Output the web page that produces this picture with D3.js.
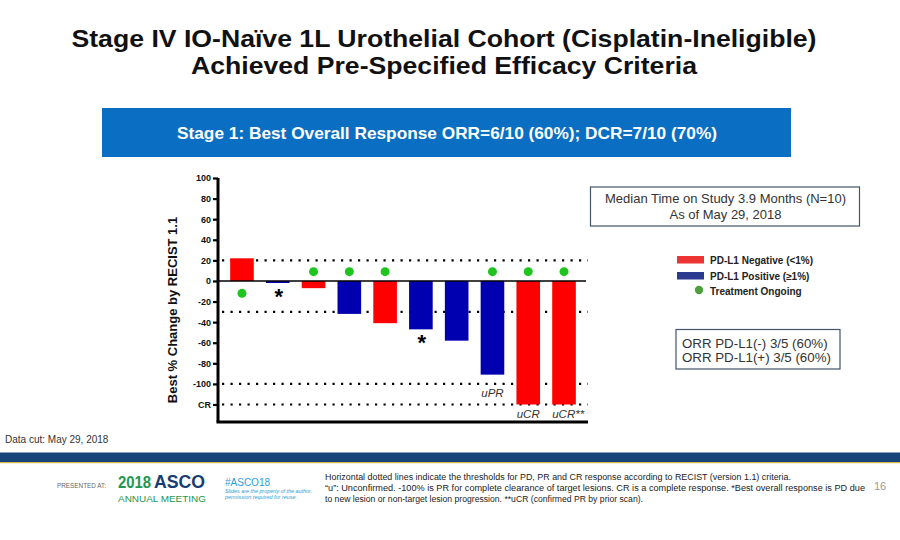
<!DOCTYPE html>
<html>
<head>
<meta charset="utf-8">
<script src="https://cdn.jsdelivr.net/npm/d3@7"></script>
<style>
html,body{margin:0;padding:0;background:#fff;}
svg{display:block;font-family:"Liberation Sans",Arial,sans-serif;}
</style>
</head>
<body>
<svg id="c" width="900" height="540"></svg>
<script>
// ---- data ----
const patients = ["P1","P2","P3","P4","P5","P6","P7","P8","P9","P10"];
const values   = [22, -2, -7, -32, -41, -47, -58, -91, -120, -120];
const pdl1     = ["neg","pos","neg","pos","neg","pos","pos","pos","neg","neg"];
const ongoing  = [true, false, true, true, true, false, false, true, true, true];
const asterisk = [false, true, false, false, false, true, false, false, false, false];
const respLabels = ["", "", "", "", "", "", "", "uPR", "uCR", "uCR**"];
const thresholds = [20, -30, -100, -120];
const yTicks = [100, 80, 60, 40, 20, 0, -20, -40, -60, -80, -100, -120];
const yTickText = {"-120": "CR"};
const legendItems = [
  {label: "PD-L1 Negative (<1%)", type: "neg"},
  {label: "PD-L1 Positive (\u22651%)", type: "pos"},
  {label: "Treatment Ongoing", type: "dot"}
];

const svg = d3.select("#c");

// ---- header ----
svg.append("text").attr("x", 444).attr("y", 47).attr("text-anchor", "middle")
  .attr("font-size", 24.5).attr("font-weight", "bold").attr("fill", "#111")
  .attr("textLength", 745).attr("lengthAdjust", "spacingAndGlyphs")
  .text("Stage IV IO-Naïve 1L Urothelial Cohort (Cisplatin-Ineligible)");
svg.append("text").attr("x", 444).attr("y", 73.5).attr("text-anchor", "middle")
  .attr("font-size", 24.5).attr("font-weight", "bold").attr("fill", "#111")
  .attr("textLength", 506).attr("lengthAdjust", "spacingAndGlyphs")
  .text("Achieved Pre-Specified Efficacy Criteria");

svg.append("rect").attr("x", 102).attr("y", 108).attr("width", 689).attr("height", 49).attr("fill", "#0a6fc2");
svg.append("text").attr("x", 447).attr("y", 139).attr("text-anchor", "middle")
  .attr("font-size", 16.5).attr("font-weight", "bold").attr("fill", "#fff")
  .attr("textLength", 540).attr("lengthAdjust", "spacingAndGlyphs")
  .text("Stage 1: Best Overall Response ORR=6/10 (60%); DCR=7/10 (70%)");

// ---- chart ----
const x = d3.scaleBand().domain(patients).range([218, 588]).paddingInner(0.34).paddingOuter(0.34);
const y = d3.scaleLinear().domain([-137, 100]).range([422, 178]);
const colors = {neg: "#ff0000", pos: "#0000b0"};

// threshold dotted lines
svg.append("g").selectAll("line").data(thresholds).join("line")
  .attr("x1", 222).attr("x2", 588)
  .attr("y1", d => y(d)).attr("y2", d => y(d))
  .attr("stroke", "#000").attr("stroke-width", 2.2).attr("stroke-dasharray", "2.2,6.3");

// bars
const data = patients.map((p, i) => ({p, v: values[i], t: pdl1[i], on: ongoing[i], ast: asterisk[i], lab: respLabels[i]}));
svg.append("g").selectAll("rect").data(data).join("rect")
  .attr("x", d => x(d.p)).attr("width", x.bandwidth())
  .attr("y", d => y(Math.max(0, d.v))).attr("height", d => Math.abs(y(d.v) - y(0)))
  .attr("fill", d => colors[d.t]);

// zero line
svg.append("line").attr("x1", 218).attr("x2", 586).attr("y1", y(0)).attr("y2", y(0))
  .attr("stroke", "#000").attr("stroke-width", 1.5);

// ongoing dots
svg.append("g").selectAll("circle").data(data.filter(d => d.on)).join("circle")
  .attr("cx", d => x(d.p) + x.bandwidth() / 2)
  .attr("cy", d => d.v > 0 ? y(-12) : y(9))
  .attr("r", 4.5).attr("fill", "#1fc41f");

// asterisks
svg.append("g").selectAll("text").data(data.filter(d => d.ast)).join("text")
  .attr("x", d => x(d.p) + x.bandwidth() / 2 + 1)
  .attr("y", d => y(d.v) + 21)
  .attr("text-anchor", "middle").attr("font-size", 22).attr("font-weight", "bold").attr("fill", "#000")
  .text("*");

// response labels
svg.append("g").selectAll("text").data(data.filter(d => d.lab)).join("text")
  .attr("x", d => x(d.p) + (d.lab === "uCR**" ? 0 : x.bandwidth() / 2))
  .attr("y", d => d.lab === "uPR" ? y(d.v) + 22 : y(-133))
  .attr("text-anchor", d => d.lab === "uCR**" ? "start" : "middle")
  .attr("font-size", 11.5).attr("font-style", "italic").attr("fill", "#333")
  .text(d => d.lab);

// axes
const yAxis = d3.axisLeft(y).tickValues(yTicks).tickSize(5).tickSizeOuter(0)
  .tickFormat(d => yTickText[d] !== undefined ? yTickText[d] : d);
const gy = svg.append("g").attr("transform", "translate(218,0)").call(yAxis);
gy.select(".domain").attr("stroke-width", 3);
gy.selectAll(".tick line").attr("stroke-width", 2.2);
gy.selectAll(".tick text").attr("font-size", 9).attr("font-weight", "bold")
  .attr("font-family", "Liberation Sans, Arial, sans-serif").attr("fill", "#111").attr("x", -7);
gy.select(".domain").attr("d", `M0,${y(100)}V${y(-137)}`);

const xAxis = d3.axisBottom(x).tickValues([]).tickSizeOuter(0);
const gx = svg.append("g").attr("transform", `translate(0,${y(-137)})`).call(xAxis);
gx.select(".domain").attr("stroke-width", 3).attr("d", "M216.5,0H588");

svg.append("text").attr("transform", "translate(177,310) rotate(-90)")
  .attr("text-anchor", "middle").attr("font-size", 13).attr("font-weight", "bold").attr("fill", "#111")
  .text("Best % Change by RECIST 1.1");

// ---- info boxes ----
svg.append("rect").attr("x", 590.5).attr("y", 187).attr("width", 269).attr("height", 39)
  .attr("fill", "#fff").attr("stroke", "#44546a").attr("stroke-width", 1.2);
svg.append("text").attr("x", 725.5).attr("y", 203).attr("text-anchor", "middle")
  .attr("font-size", 13).attr("fill", "#333").text("Median Time on Study 3.9 Months (N=10)");
svg.append("text").attr("x", 725.5).attr("y", 219).attr("text-anchor", "middle")
  .attr("font-size", 13).attr("fill", "#333").text("As of May 29, 2018");

const lg = svg.append("g").selectAll("g").data(legendItems).join("g")
  .attr("transform", (d, i) => `translate(0,${[256, 272, 287][i]})`);
lg.filter(d => d.type !== "dot").append("rect").attr("x", 677).attr("y", 0).attr("width", 27).attr("height", 7.5)
  .attr("fill", d => d.type === "neg" ? "#ee3333" : "#2b3990");
lg.filter(d => d.type === "dot").append("circle").attr("cx", 699).attr("cy", 3).attr("r", 4.2).attr("fill", "#4ea03c");
lg.append("text").attr("x", 710).attr("y", 7.8).attr("font-size", 10).attr("font-weight", "bold").attr("fill", "#222")
  .text(d => d.label);

svg.append("rect").attr("x", 676).attr("y", 329.5).attr("width", 164).attr("height", 39.5)
  .attr("fill", "#fff").attr("stroke", "#44546a").attr("stroke-width", 1.2);
svg.append("text").attr("x", 682).attr("y", 347.5).attr("font-size", 13.3).attr("fill", "#333").text("ORR PD-L1(-) 3/5 (60%)");
svg.append("text").attr("x", 682).attr("y", 362).attr("font-size", 13.3).attr("fill", "#333").text("ORR PD-L1(+) 3/5 (60%)");

// ---- footer ----
svg.append("text").attr("x", 5).attr("y", 443).attr("font-size", 10).attr("fill", "#333").text("Data cut: May 29, 2018");
svg.append("rect").attr("x", 0).attr("y", 452.5).attr("width", 900).attr("height", 9.5).attr("fill", "#17457a");
svg.append("rect").attr("x", 0).attr("y", 462).attr("width", 900).attr("height", 1.2).attr("fill", "#d8b54a");

svg.append("text").attr("x", 57).attr("y", 487.5).attr("font-size", 6.5).attr("fill", "#666")
  .attr("textLength", 49).attr("lengthAdjust", "spacingAndGlyphs").text("PRESENTED AT:");
svg.append("text").attr("x", 118).attr("y", 488).attr("font-size", 16).attr("font-weight", "bold").attr("fill", "#1e9650")
  .attr("textLength", 33).attr("lengthAdjust", "spacingAndGlyphs").text("2018");
svg.append("text").attr("x", 154).attr("y", 488).attr("font-size", 18).attr("font-weight", "bold").attr("fill", "#163d73")
  .attr("textLength", 51).attr("lengthAdjust", "spacingAndGlyphs").text("ASCO");
svg.append("text").attr("x", 118).attr("y", 502).attr("font-size", 9.5).attr("fill", "#1e9650")
  .attr("textLength", 88).attr("lengthAdjust", "spacingAndGlyphs").text("ANNUAL MEETING");
svg.append("text").attr("x", 225).attr("y", 486).attr("font-size", 10).attr("fill", "#2aa0d6")
  .attr("textLength", 45).attr("lengthAdjust", "spacingAndGlyphs").text("#ASCO18");
svg.append("text").attr("x", 225).attr("y", 493).attr("font-size", 5).attr("font-style", "italic").attr("fill", "#2aa0d6")
  .attr("textLength", 87).attr("lengthAdjust", "spacingAndGlyphs").text("Slides are the property of the author,");
svg.append("text").attr("x", 225).attr("y", 499).attr("font-size", 5).attr("font-style", "italic").attr("fill", "#2aa0d6")
  .attr("textLength", 72).attr("lengthAdjust", "spacingAndGlyphs").text("permission required for reuse.");

const foot = [
  {t: "Horizontal dotted lines indicate the thresholds for PD, PR and CR response according to RECIST (version 1.1) criteria.", w: 466},
  {t: "\u201Cu\u201D: Unconfirmed. -100% is PR for complete clearance of target lesions. CR is a complete response.  *Best overall response is PD due", w: 540},
  {t: "to new lesion or non-target lesion progression. **uCR (confirmed PR by prior scan).", w: 318}
];
svg.append("g").selectAll("text").data(foot).join("text")
  .attr("x", 325).attr("y", (d, i) => 480 + i * 11)
  .attr("font-size", 8.3).attr("fill", "#222")
  .attr("textLength", d => d.w).attr("lengthAdjust", "spacingAndGlyphs")
  .text(d => d.t);
svg.append("text").attr("x", 874).attr("y", 490).attr("font-size", 11).attr("fill", "#999").text("16");
</script>
</body>
</html>
